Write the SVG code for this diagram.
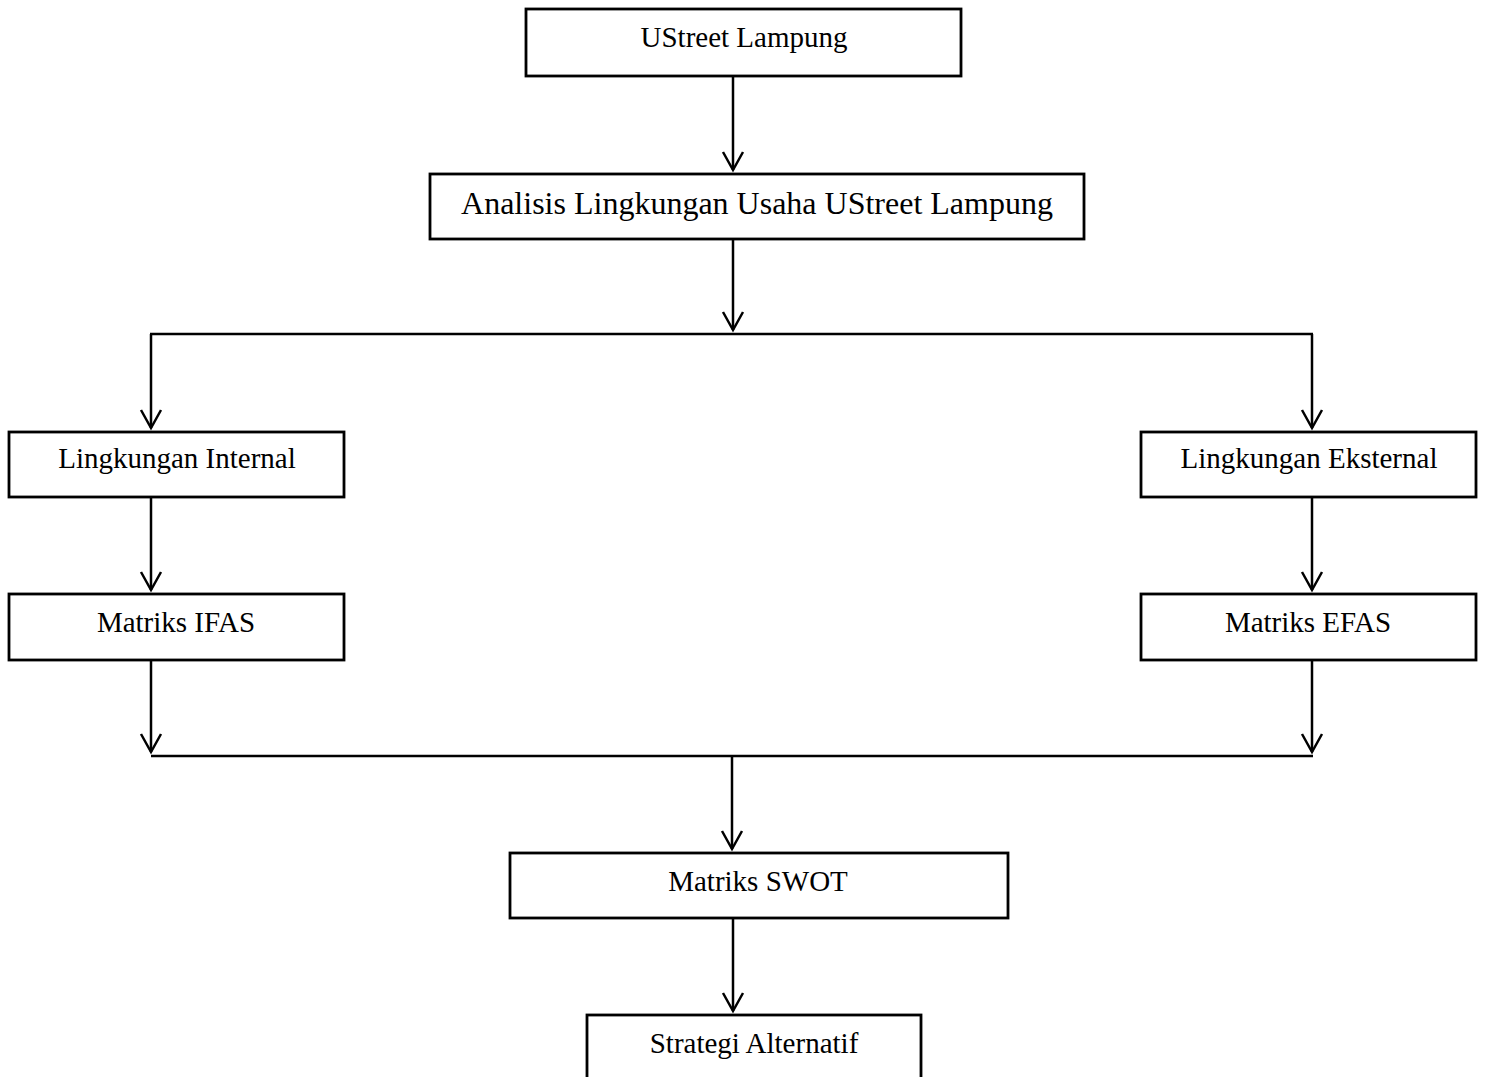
<svg xmlns="http://www.w3.org/2000/svg" width="1486" height="1077" viewBox="0 0 1486 1077">
<style>
.box{fill:#fff;stroke:#000;stroke-width:2.8}
.lbl{font-family:"Liberation Serif","Times New Roman",serif;font-size:29px;fill:#000;text-anchor:middle}
.big{font-size:32px}
.ln{fill:none;stroke:#000;stroke-width:2.5}
</style>
<defs>
<marker id="arr" markerUnits="userSpaceOnUse" markerWidth="26" markerHeight="26" viewBox="-22 -13 26 26" refX="0" refY="0" orient="auto" overflow="visible">
<path d="M-18,-10 L0,0 L-18,10" fill="none" stroke="#000" stroke-width="2.5"/>
</marker>
</defs>
<rect width="1486" height="1077" fill="#fff"/>
<g id="connectors">
<path class="ln" d="M733,77 V170" marker-end="url(#arr)"/>
<path class="ln" d="M733,240 V330" marker-end="url(#arr)"/>
<path class="ln" d="M150,334 H1313"/>
<path class="ln" d="M151,334 V428" marker-end="url(#arr)"/>
<path class="ln" d="M1312,334 V428" marker-end="url(#arr)"/>
<path class="ln" d="M151,498 V590" marker-end="url(#arr)"/>
<path class="ln" d="M1312,498 V590" marker-end="url(#arr)"/>
<path class="ln" d="M151,661 V752" marker-end="url(#arr)"/>
<path class="ln" d="M1312,661 V752" marker-end="url(#arr)"/>
<path class="ln" d="M151,756 H1313"/>
<path class="ln" d="M732,756 V849" marker-end="url(#arr)"/>
<path class="ln" d="M733,919 V1011" marker-end="url(#arr)"/>
</g>
<g id="n1"><rect class="box" x="526" y="9" width="435" height="67"/><text class="lbl" x="744" y="47">UStreet Lampung</text></g>
<g id="n2"><rect class="box" x="430" y="174" width="654" height="65"/><text class="lbl big" x="757" y="214">Analisis Lingkungan Usaha UStreet Lampung</text></g>
<g id="n3"><rect class="box" x="9" y="432" width="335" height="65"/><text class="lbl" x="177" y="468">Lingkungan Internal</text></g>
<g id="n4"><rect class="box" x="1141" y="432" width="335" height="65"/><text class="lbl" x="1309" y="468">Lingkungan Eksternal</text></g>
<g id="n5"><rect class="box" x="9" y="594" width="335" height="66"/><text class="lbl" x="176" y="632">Matriks IFAS</text></g>
<g id="n6"><rect class="box" x="1141" y="594" width="335" height="66"/><text class="lbl" x="1308" y="632">Matriks EFAS</text></g>
<g id="n7"><rect class="box" x="510" y="853" width="498" height="65"/><text class="lbl" x="758" y="891">Matriks SWOT</text></g>
<g id="n8"><rect class="box" x="587" y="1015" width="334" height="80"/><text class="lbl" x="754" y="1053">Strategi Alternatif</text></g>
</svg>
